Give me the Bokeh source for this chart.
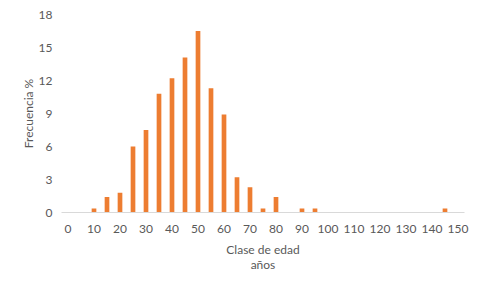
from bokeh.plotting import figure
from bokeh.embed import file_html
from bokeh.resources import INLINE
from bokeh.models import Range1d, FixedTicker

# Data
clases = [0, 5, 10, 15, 20, 25, 30, 35, 40, 45, 50, 55, 60, 65, 70, 75, 80, 85, 90, 95,
          100, 105, 110, 115, 120, 125, 130, 135, 140, 145, 150]
frecuencia = [0, 0, 0.36, 1.4, 1.8, 6.0, 7.5, 10.8, 12.2, 14.1, 16.5, 11.3, 8.9, 3.2, 2.3, 0.36,
              1.4, 0, 0.36, 0.36, 0, 0, 0, 0, 0, 0, 0, 0, 0, 0.36, 0]
x_ticks = [0, 10, 20, 30, 40, 50, 60, 70, 80, 90, 100, 110, 120, 130, 140, 150]
y_ticks = [0, 3, 6, 9, 12, 15, 18]

FONT = "Lato"
GREY = "#595959"

p = figure(frame_width=403, frame_height=198, output_backend="svg", toolbar_location=None,
           x_range=Range1d(-2.5, 152.5), y_range=Range1d(0, 18),
           min_border_left=61, min_border_right=7, min_border_top=14, min_border_bottom=58)

p.vbar(x=clases, top=frecuencia, width=1.8, color="#ED7D31", line_color=None)

p.outline_line_color = None
p.xgrid.grid_line_color = None
p.ygrid.grid_line_color = None

for ax in (p.xaxis[0], p.yaxis[0]):
    ax.major_tick_line_color = None
    ax.minor_tick_line_color = None
    ax.major_label_text_font = FONT
    ax.major_label_text_font_size = "12px"
    ax.major_label_text_color = GREY
    ax.axis_label_text_font = FONT
    ax.axis_label_text_font_size = "12px"
    ax.axis_label_text_color = GREY
    ax.axis_label_text_font_style = "normal"

p.xaxis.ticker = FixedTicker(ticks=x_ticks)
p.yaxis.ticker = FixedTicker(ticks=y_ticks)
p.xaxis.axis_line_color = "#D9D9D9"
p.xaxis.axis_line_width = 1
p.yaxis.axis_line_color = None
p.xaxis.major_label_standoff = 6
p.yaxis.major_label_standoff = 3
p.xaxis.axis_label = "Clase de edad\naños"
p.yaxis.axis_label = "Frecuencia %"
p.xaxis.axis_label_standoff = 6
p.xaxis.axis_label_text_line_height = 1.0
p.yaxis.axis_label_standoff = 0

open("out.html", "w").write(file_html(p, INLINE))
